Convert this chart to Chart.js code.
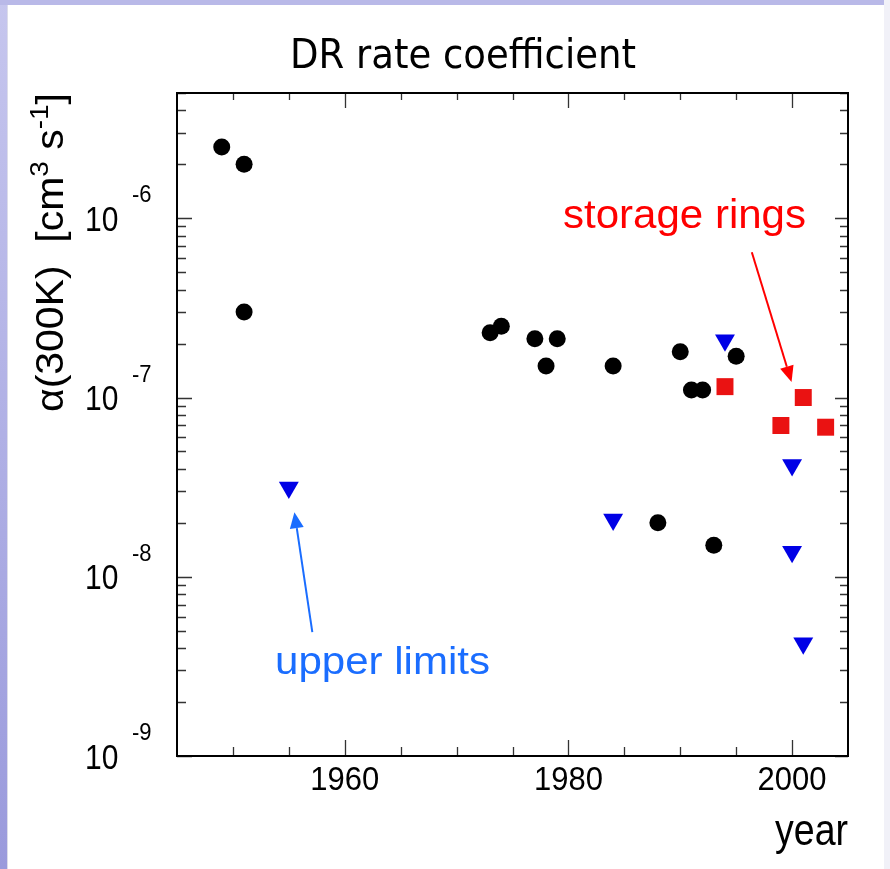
<!DOCTYPE html>
<html>
<head>
<meta charset="utf-8">
<title>DR rate coefficient</title>
<script src="https://cdn.jsdelivr.net/npm/chart.js@4.4.1/dist/chart.umd.min.js"></script>
<style>
  html, body { margin: 0; padding: 0; background: #fff; }
  #page { position: relative; width: 890px; height: 869px; overflow: hidden; background: #fff; }
  .strip-left { position: absolute; left: 0; top: 0; width: 7px; height: 869px;
    background: linear-gradient(#c6c6ee, #9a9adc); border-right: 1px solid #dcdcea; }
  .strip-top { position: absolute; left: 0; top: 0; width: 890px; height: 5px; background: #b9b9e8; }
  .strip-right { position: absolute; right: 0; top: 0; width: 6px; height: 869px; background: #f1f1f8; }
  canvas { position: absolute; left: 0; top: 0; }
</style>
</head>
<body>
<div id="page">
  <div class="strip-left"></div>
  <div class="strip-top"></div>
  <div class="strip-right"></div>
  <canvas id="drChart" width="890" height="869"></canvas>
</div>
<script>
// measurements (black circles)
const measYears = [1949, 1951, 1951, 1973, 1974, 1977, 1978, 1979, 1984, 1988, 1990, 1991, 1992, 1993, 1995];
const measRates = [2.5e-6, 2.0e-6, 3.0e-7, 2.3e-7, 2.5e-7, 2.13e-7, 1.5e-7, 2.13e-7, 1.5e-7, 2.0e-8, 1.8e-7, 1.1e-7, 1.1e-7, 1.5e-8, 1.7e-7];

// upper limits (blue down triangles)
const limitYears = [1955, 1984, 1994, 2000, 2000, 2001];
const limitRates = [3.15e-8, 2.09e-8, 2.09e-7, 4.2e-8, 1.38e-8, 4.25e-9];

// storage ring results (red squares)
const ringYears = [1994, 1999, 2001, 2003];
const ringRates = [1.15e-7, 6.98e-8, 1.0e-7, 6.83e-8];

// axes
const yearMin = 1945, yearMax = 2005;
const yearLabels = [1960, 1980, 2000];
const yearMinorStep = 5;
const rateMin = 1e-9, rateMax = 5e-6;
const rateDecades = [-9, -8, -7, -6];

const toPoints = (xs, ys) => xs.map((x, i) => ({ x: x, y: ys[i] }));

// draw text with optional horizontal fit / vertical stretch
function drawText(ctx, txt, x, y, font, color, align, fitWidth, sy) {
    ctx.save();
    ctx.font = font;
    ctx.fillStyle = color;
    ctx.textBaseline = 'alphabetic';
    ctx.textAlign = align;
    const w = ctx.measureText(txt).width;
    const sx = fitWidth ? fitWidth / w : 1;
    ctx.translate(x, y);
    ctx.scale(sx, sy || 1);
    ctx.fillText(txt, 0, 0);
    ctx.restore();
}

function drawArrow(ctx, x1, y1, x2, y2, color) {
    const ang = Math.atan2(y2 - y1, x2 - x1);
    const headLen = 16, headW = 7;
    const bx = x2 - Math.cos(ang) * headLen;
    const by = y2 - Math.sin(ang) * headLen;
    ctx.save();
    ctx.strokeStyle = color;
    ctx.fillStyle = color;
    ctx.lineWidth = 2;
    ctx.beginPath();
    ctx.moveTo(x1, y1);
    ctx.lineTo(bx, by);
    ctx.stroke();
    ctx.beginPath();
    ctx.moveTo(x2, y2);
    ctx.lineTo(bx + Math.sin(ang) * headW, by - Math.cos(ang) * headW);
    ctx.lineTo(bx - Math.sin(ang) * headW, by + Math.cos(ang) * headW);
    ctx.closePath();
    ctx.fill();
    ctx.restore();
}

// frame, inward ticks, labels and annotations
const decorPlugin = {
    id: 'decor',
    afterDatasetsDraw(chart) {
        const ctx = chart.ctx;
        const a = chart.chartArea;
        const xs = chart.scales.x, ys = chart.scales.y;

        ctx.save();
        ctx.strokeStyle = '#333';
        ctx.lineWidth = 1.3;
        ctx.beginPath();
        for (let yr = yearMin + yearMinorStep; yr < yearMax; yr += yearMinorStep) {
            const px = Math.round(xs.getPixelForValue(yr)) + 0.5;
            const major = yearLabels.includes(yr);
            ctx.moveTo(px, a.bottom);
            ctx.lineTo(px, a.bottom - (major ? 16 : 9));
            ctx.moveTo(px, a.top);
            ctx.lineTo(px, a.top + (major ? 15 : 7));
        }
        rateDecades.forEach(k => {
            for (let m = 1; m <= 9; m++) {
                const v = m * Math.pow(10, k);
                if (v > rateMax) break;
                const py = Math.round(ys.getPixelForValue(v)) + 0.5;
                ctx.moveTo(a.left, py);
                ctx.lineTo(a.left + (m === 1 ? 15 : 9), py);
                ctx.moveTo(a.right, py);
                ctx.lineTo(a.right - (m === 1 ? 13 : 8), py);
            }
        });
        ctx.stroke();

        // frame
        ctx.strokeStyle = '#000';
        ctx.lineWidth = 2;
        ctx.strokeRect(a.left, a.top, a.right - a.left, a.bottom - a.top);
        ctx.restore();

        // x tick labels
        yearLabels.forEach(yr => {
            drawText(ctx, String(yr), xs.getPixelForValue(yr), 790, '31px "Liberation Sans", Arial', '#000', 'center', 0, 1.07);
        });
        // y tick labels 10^k
        rateDecades.forEach(k => {
            const ty = ys.getPixelForValue(Math.pow(10, k));
            drawText(ctx, '10', 85, ty + 12.5, '30px "Liberation Sans", Arial', '#000', 'left', 0, 1.17);
            drawText(ctx, String(k), 132, ty - 16, '22px "Liberation Sans", Arial', '#000', 'left', 0, 1.1);
        });

        // axis titles
        drawText(ctx, 'year', a.right, 845, '38px "Liberation Sans", Arial', '#000', 'right', 73, 1.18);

        ctx.save();
        ctx.translate(63, 412);
        ctx.rotate(-Math.PI / 2);
        const parts = [
            ['α(300K)  [cm', 38, 0],
            ['3', 26, -15],
            [' s', 38, 0],
            ['-1', 26, -15],
            [']', 38, 0]
        ];
        let total = 0;
        parts.forEach(p => { ctx.font = p[1] + 'px "Liberation Sans", Arial'; total += ctx.measureText(p[0]).width; });
        ctx.scale(319 / total, 1);
        ctx.fillStyle = '#000';
        ctx.textBaseline = 'alphabetic';
        ctx.textAlign = 'left';
        let cx = 0;
        parts.forEach(p => {
            ctx.font = p[1] + 'px "Liberation Sans", Arial';
            ctx.fillText(p[0], cx, p[2]);
            cx += ctx.measureText(p[0]).width;
        });
        ctx.restore();

        // annotations
        drawText(ctx, 'storage rings', 563, 228, '40px "Liberation Sans", Arial', '#ff0000', 'left', 243, 1);
        drawArrow(ctx, xs.getPixelForValue(1996.4), ys.getPixelForValue(6.46e-7),
            xs.getPixelForValue(1999.95), ys.getPixelForValue(1.22e-7), '#ff0000');
        drawText(ctx, 'upper limits', 275, 674, '40px "Liberation Sans", Arial', '#1a6dff', 'left', 215, 0.95);
        drawArrow(ctx, xs.getPixelForValue(1957.1), ys.getPixelForValue(4.91e-9),
            xs.getPixelForValue(1955.5), ys.getPixelForValue(2.29e-8), '#1a6dff');
    },
    afterDraw(chart) {
        drawText(chart.ctx, 'DR rate coefficient', 290, 68, '41px "DejaVu Sans", sans-serif', '#000', 'left', 346, 1);
    }
};

const ctx = document.getElementById('drChart').getContext('2d');
new Chart(ctx, {
    type: 'scatter',
    data: {
        datasets: [{
            label: 'measurements',
            data: toPoints(measYears, measRates),
            pointStyle: 'circle',
            pointRadius: 8.5,
            borderWidth: 0,
            backgroundColor: '#000'
        }, {
            label: 'upper limits',
            data: toPoints(limitYears, limitRates),
            pointStyle: 'triangle',
            pointRotation: 180,
            pointRadius: 11.5,
            borderWidth: 0,
            backgroundColor: '#0000e6'
        }, {
            label: 'storage rings',
            data: toPoints(ringYears, ringRates),
            pointStyle: 'rect',
            pointRadius: 12,
            borderWidth: 0,
            backgroundColor: '#ea1212'
        }]
    },
    options: {
        responsive: false,
        animation: false,
        devicePixelRatio: 1,
        layout: { padding: { left: 177, right: 42, top: 93, bottom: 113 } },
        scales: {
            x: { type: 'linear', min: yearMin, max: yearMax, display: false },
            y: { type: 'logarithmic', min: rateMin, max: rateMax, display: false }
        },
        plugins: {
            legend: { display: false },
            tooltip: { enabled: false }
        }
    },
    plugins: [decorPlugin]
});
</script>
</body>
</html>
